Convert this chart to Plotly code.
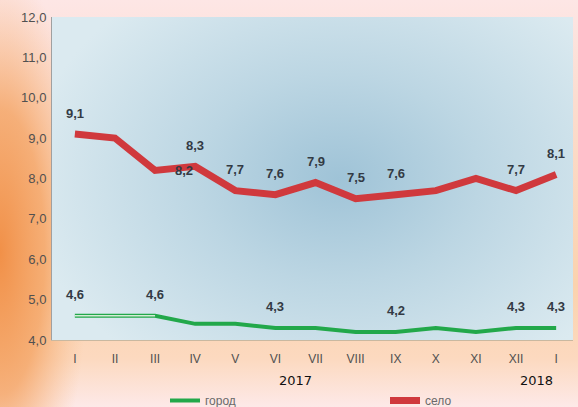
import base64
import plotly.graph_objects as go

months = ["I", "II", "III", "IV", "V", "VI", "VII", "VIII", "IX", "X", "XI", "XII", "I"]
selo = [9.1, 9.0, 8.2, 8.3, 7.7, 7.6, 7.9, 7.5, 7.6, 7.7, 8.0, 7.7, 8.1]
gorod = [4.6, 4.6, 4.6, 4.4, 4.4, 4.3, 4.3, 4.2, 4.2, 4.3, 4.2, 4.3, 4.3]
selo_labeled = [0, 2, 3, 4, 5, 6, 7, 8, 11, 12]
gorod_labeled = [0, 2, 5, 8, 11, 12]
years = ["2017", "2018"]
year_pos = [5.5, 11.5]
y_ticks = [4, 5, 6, 7, 8, 9, 10, 11, 12]

W, H = 578, 407
ML, MR, MT, MB = 52, 5, 17, 67
PW, PH = W - ML - MR, H - MT - MB

def fmt(v):
    return f"{v:.1f}".replace(".", ",")

x = list(range(len(months)))

paper_svg = f'''<svg xmlns="http://www.w3.org/2000/svg" width="{W}" height="{H}" preserveAspectRatio="none">
<defs>
<linearGradient id="v" x1="0" y1="0" x2="0" y2="1">
<stop offset="0" stop-color="#fde6e5"/>
<stop offset="0.25" stop-color="#fcdccf"/>
<stop offset="0.7" stop-color="#fbd2ae"/>
<stop offset="0.88" stop-color="#fcd9bf"/>
<stop offset="1" stop-color="#fde9e8"/>
</linearGradient>
<radialGradient id="l" cx="0" cy="0.62" r="0.7" gradientTransform="translate(0,0.62) scale(0.22,1) translate(0,-0.62)">
<stop offset="0" stop-color="#f19048" stop-opacity="1"/>
<stop offset="0.5" stop-color="#f4a464" stop-opacity="0.8"/>
<stop offset="1" stop-color="#f8c090" stop-opacity="0"/>
</radialGradient>
</defs>
<rect width="{W}" height="{H}" fill="url(#v)"/>
<rect width="{W}" height="{H}" fill="url(#l)"/>
</svg>'''

plot_svg = f'''<svg xmlns="http://www.w3.org/2000/svg" width="{PW}" height="{PH}" preserveAspectRatio="none">
<defs>
<radialGradient id="r" cx="0.55" cy="0.5" r="0.6" gradientTransform="translate(0.55,0.5) scale(1,1.2) translate(-0.55,-0.5)">
<stop offset="0" stop-color="#9fc3d7"/>
<stop offset="0.45" stop-color="#bcd6e3"/>
<stop offset="1" stop-color="#dbeaf0"/>
</radialGradient>
</defs>
<rect width="{PW}" height="{PH}" fill="url(#r)"/>
</svg>'''

def uri(s):
    return "data:image/svg+xml;base64," + base64.b64encode(s.encode()).decode()

fig = go.Figure()
fig.add_trace(go.Scatter(x=x, y=gorod, mode="lines", name="город", legend="legend",
                         line=dict(color="#22a84a", width=4)))
fig.add_trace(go.Scatter(x=x[:3], y=gorod[:3], mode="lines", showlegend=False,
                         line=dict(color="#d4ecd6", width=1.5), hoverinfo="skip"))
fig.add_trace(go.Scatter(x=x, y=selo, mode="lines", name="село", legend="legend2",
                         line=dict(color="#d0393d", width=7)))

ann = []
lab_font = dict(family="Liberation Sans", size=13, color="#333a44")
for i in selo_labeled:
    if i == 2:
        ann.append(dict(x=x[i], y=selo[i], text="<b>" + fmt(selo[i]) + "</b>", showarrow=False,
                        xshift=29, yshift=0, font=lab_font))
    else:
        ann.append(dict(x=x[i], y=selo[i], text="<b>" + fmt(selo[i]) + "</b>", showarrow=False,
                        yshift=21, font=lab_font))
for i in gorod_labeled:
    ann.append(dict(x=x[i], y=gorod[i], text="<b>" + fmt(gorod[i]) + "</b>", showarrow=False,
                    yshift=21, font=lab_font))
for t, p in zip(years, year_pos):
    ann.append(dict(x=p, y=0, yref="paper", text=t, showarrow=False, yshift=-50,
                    font=dict(family="DejaVu Sans", size=13, color="#111111")))

leg_common = dict(orientation="h", xanchor="left", yanchor="top",
                  y=-(386 - H + MB) / PH, bgcolor="rgba(0,0,0,0)",
                  font=dict(family="Liberation Sans", size=12, color="#6a6a6a"))

fig.update_layout(
    width=W, height=H,
    margin=dict(l=ML, r=MR, t=MT, b=MB, autoexpand=False),
    paper_bgcolor="#fde6e2",
    plot_bgcolor="rgba(0,0,0,0)",
    images=[
        dict(source=uri(paper_svg), xref="paper", yref="paper",
             x=-ML / PW, y=1 + MT / PH, sizex=W / PW, sizey=H / PH,
             xanchor="left", yanchor="top", sizing="stretch", layer="below"),
        dict(source=uri(plot_svg), xref="paper", yref="paper",
             x=0, y=1, sizex=1, sizey=1,
             xanchor="left", yanchor="top", sizing="stretch", layer="below"),
    ],
    xaxis=dict(range=[-0.57, 12.42], tickvals=x, ticktext=months, showgrid=False,
               zeroline=False, showline=True, linecolor="#c9b8a0", linewidth=1,
               ticks="", ticklabelstandoff=8,
               tickfont=dict(family="Liberation Sans", size=12, color="#505050")),
    yaxis=dict(range=[4, 12], tickvals=y_ticks, ticktext=[fmt(v) for v in y_ticks],
               showgrid=False, zeroline=False, showline=True, linecolor="#a0a0a0",
               linewidth=1, ticks="", ticklen=0, ticklabelstandoff=2,
               tickfont=dict(family="Liberation Sans", size=13, color="#505050")),
    showlegend=True,
    legend=dict(x=(165 - ML) / PW, **leg_common),
    legend2=dict(x=(385 - ML) / PW, **leg_common),
    annotations=ann,
)

fig.write_html("out.html", config={"displayModeBar": False},
               post_script="document.body.style.margin='0';document.body.style.overflow='hidden';")
